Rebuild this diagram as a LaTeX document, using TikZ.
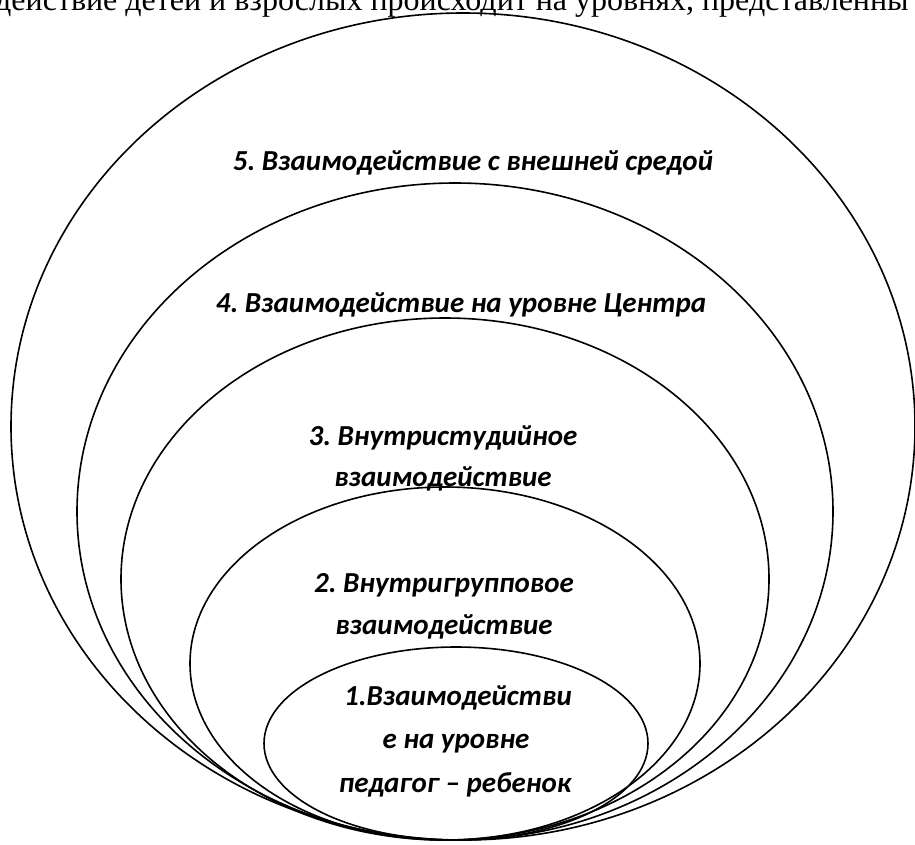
\documentclass[tikz,border=0pt]{standalone}
\usepackage{fontspec}
\setmainfont{Carlito}
\newfontfamily\topfont{Liberation Serif}
\frenchspacing
\begin{document}
\begin{tikzpicture}[x=1pt,y=-1pt,
  ring/.style={draw=black,line width=1.6pt},
  lbl/.style={anchor=base,inner sep=0pt,font=\fontsize{29}{33}\selectfont\bfseries\itshape}]
\useasboundingbox (0,0) rectangle (915,844);
\begin{scope}
\clip (0,0) rectangle (915,844);
\node[anchor=base west,inner sep=0pt,font=\fontsize{32}{36}\selectfont\topfont] (top) at (-5,10) {действие детей и взрослых происходит на уровнях, представленны};
\draw[ring] (463,426.5) ellipse [x radius=452pt, y radius=413.5pt];
\draw[ring] (455,511.5) ellipse [x radius=378pt, y radius=328.5pt];
\draw[ring] (445,579) ellipse [x radius=324pt, y radius=261pt];
\draw[ring] (445,663.5) ellipse [x radius=255pt, y radius=176.5pt];
\draw[ring] (456,743.5) ellipse [x radius=192pt, y radius=96.5pt];
\end{scope}
\node[lbl] (l5) at (473,170) {5. Взаимодействие с внешней средой};
\node[lbl] (l4) at (461,312) {4. Взаимодействие на уровне Центра};
\node[lbl] (l3a) at (443,445) {3. Внутристудийное};
\node[lbl] (l3b) at (443,486) {взаимодействие};
\node[lbl] (l2a) at (444,592) {2. Внутригрупповое};
\node[lbl] (l2b) at (444,634) {взаимодействие};
\node[lbl] (l1a) at (458,705) {1.Взаимодействи};
\node[lbl] (l1b) at (456,748) {е на уровне};
\node[lbl] (l1c) at (455,792) {педагог – ребенок};
\end{tikzpicture}
\end{document}
